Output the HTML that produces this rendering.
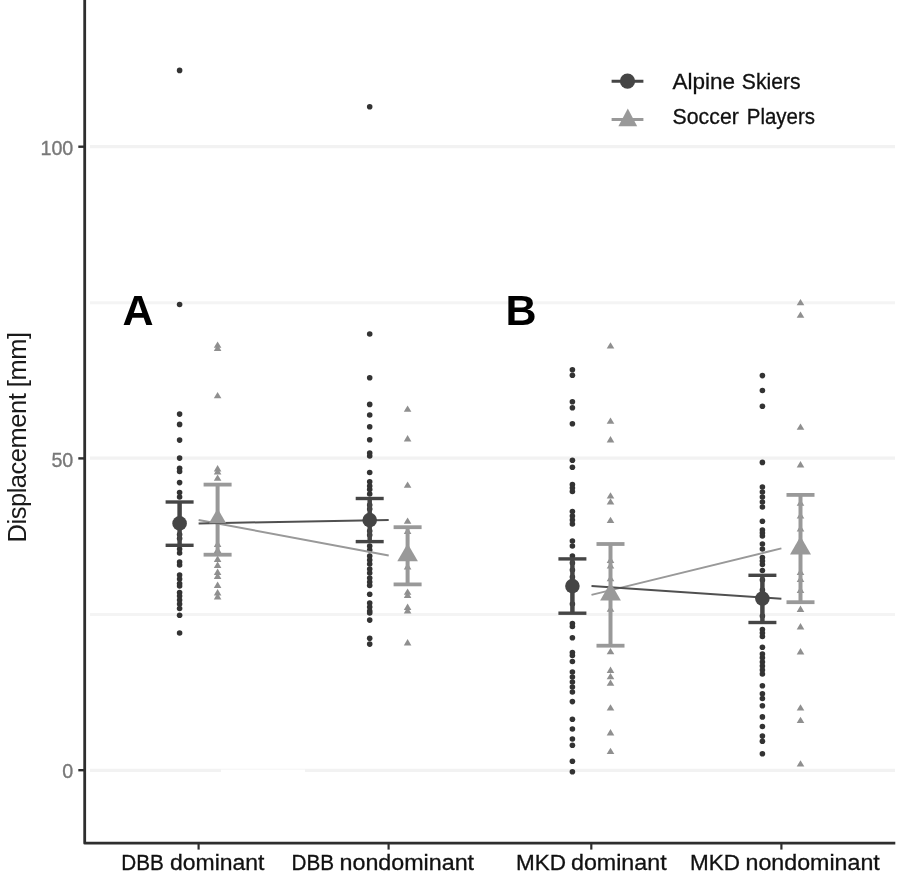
<!DOCTYPE html>
<html lang="en">
<head>
<meta charset="utf-8">
<title>Displacement: Alpine Skiers vs Soccer Players</title>
<style>
html,body{margin:0;padding:0;background:#ffffff;}
body{width:901px;height:874px;overflow:hidden;}
svg{display:block;filter:blur(0.45px);}
text{font-family:"Liberation Sans",sans-serif;}
.tick{font-size:19.7px;fill:#787878;stroke:#787878;stroke-width:0.35px;}
.lab{font-size:21.5px;fill:#111111;stroke:#111111;stroke-width:0.3px;}
.panel{font-size:43px;font-weight:bold;fill:#000000;}
.ylab{font-size:25.5px;fill:#1a1a1a;}
</style>
</head>
<body>
<svg width="901" height="874" viewBox="0 0 901 874">
<rect x="0" y="0" width="901" height="874" fill="#ffffff"/>

<g stroke-width="3.1" fill="none">
<line x1="90" y1="146.6" x2="895" y2="146.6" stroke="#f2f2f2"/>
<line x1="90" y1="302.8" x2="895" y2="302.8" stroke="#f4f4f4"/>
<line x1="90" y1="458.1" x2="895" y2="458.1" stroke="#f2f2f2"/>
<line x1="90" y1="614.5" x2="895" y2="614.5" stroke="#f4f4f4"/>
<line x1="90" y1="770.4" x2="895" y2="770.4" stroke="#f2f2f2"/>
</g>
<rect x="221" y="769.6" width="84" height="6" fill="#ffffff"/>
<g fill="#333333">
<circle cx="179.6" cy="70.4" r="2.8"/>
<circle cx="179.6" cy="304.5" r="2.8"/>
<circle cx="179.6" cy="414.1" r="2.8"/>
<circle cx="179.6" cy="424.4" r="2.8"/>
<circle cx="179.6" cy="440.1" r="2.8"/>
<circle cx="179.6" cy="458.1" r="2.8"/>
<circle cx="179.6" cy="468.2" r="2.8"/>
<circle cx="179.6" cy="471.5" r="2.8"/>
<circle cx="179.6" cy="482.6" r="2.8"/>
<circle cx="179.6" cy="492.5" r="2.8"/>
<circle cx="179.6" cy="497" r="2.8"/>
<circle cx="179.6" cy="534.5" r="2.8"/>
<circle cx="179.6" cy="538.5" r="2.8"/>
<circle cx="179.6" cy="549" r="2.8"/>
<circle cx="179.6" cy="553" r="2.8"/>
<circle cx="179.6" cy="562" r="2.8"/>
<circle cx="179.6" cy="565" r="2.8"/>
<circle cx="179.6" cy="575" r="2.8"/>
<circle cx="179.6" cy="579" r="2.8"/>
<circle cx="179.6" cy="583.5" r="2.8"/>
<circle cx="179.6" cy="586" r="2.8"/>
<circle cx="179.6" cy="592.5" r="2.8"/>
<circle cx="179.6" cy="596" r="2.8"/>
<circle cx="179.6" cy="600" r="2.8"/>
<circle cx="179.6" cy="604" r="2.8"/>
<circle cx="179.6" cy="608.5" r="2.8"/>
<circle cx="179.6" cy="615.3" r="2.8"/>
<circle cx="179.6" cy="633" r="2.8"/>
<circle cx="369.7" cy="106.8" r="2.8"/>
<circle cx="369.7" cy="334" r="2.8"/>
<circle cx="369.7" cy="377.7" r="2.8"/>
<circle cx="369.7" cy="404.4" r="2.8"/>
<circle cx="369.7" cy="415" r="2.8"/>
<circle cx="369.7" cy="426.8" r="2.8"/>
<circle cx="369.7" cy="439.7" r="2.8"/>
<circle cx="369.7" cy="453" r="2.8"/>
<circle cx="369.7" cy="456" r="2.8"/>
<circle cx="369.7" cy="472.5" r="2.8"/>
<circle cx="369.7" cy="481.7" r="2.8"/>
<circle cx="369.7" cy="486" r="2.8"/>
<circle cx="369.7" cy="489.5" r="2.8"/>
<circle cx="369.7" cy="494" r="2.8"/>
<circle cx="369.7" cy="505" r="2.8"/>
<circle cx="369.7" cy="509" r="2.8"/>
<circle cx="369.7" cy="531" r="2.8"/>
<circle cx="369.7" cy="535" r="2.8"/>
<circle cx="369.7" cy="546" r="2.8"/>
<circle cx="369.7" cy="550" r="2.8"/>
<circle cx="369.7" cy="556" r="2.8"/>
<circle cx="369.7" cy="560" r="2.8"/>
<circle cx="369.7" cy="564" r="2.8"/>
<circle cx="369.7" cy="569" r="2.8"/>
<circle cx="369.7" cy="573" r="2.8"/>
<circle cx="369.7" cy="578" r="2.8"/>
<circle cx="369.7" cy="582" r="2.8"/>
<circle cx="369.7" cy="585.5" r="2.8"/>
<circle cx="369.7" cy="594.2" r="2.8"/>
<circle cx="369.7" cy="603" r="2.8"/>
<circle cx="369.7" cy="607" r="2.8"/>
<circle cx="369.7" cy="611" r="2.8"/>
<circle cx="369.7" cy="613" r="2.8"/>
<circle cx="369.7" cy="620.1" r="2.8"/>
<circle cx="369.7" cy="638.2" r="2.8"/>
<circle cx="369.7" cy="644.1" r="2.8"/>
<circle cx="572.4" cy="369.7" r="2.8"/>
<circle cx="572.4" cy="375.3" r="2.8"/>
<circle cx="572.4" cy="401.7" r="2.8"/>
<circle cx="572.4" cy="407.8" r="2.8"/>
<circle cx="572.4" cy="423.8" r="2.8"/>
<circle cx="572.4" cy="460.3" r="2.8"/>
<circle cx="572.4" cy="467.2" r="2.8"/>
<circle cx="572.4" cy="484.5" r="2.8"/>
<circle cx="572.4" cy="488" r="2.8"/>
<circle cx="572.4" cy="491.5" r="2.8"/>
<circle cx="572.4" cy="511.5" r="2.8"/>
<circle cx="572.4" cy="516" r="2.8"/>
<circle cx="572.4" cy="520" r="2.8"/>
<circle cx="572.4" cy="524" r="2.8"/>
<circle cx="572.4" cy="541" r="2.8"/>
<circle cx="572.4" cy="546" r="2.8"/>
<circle cx="572.4" cy="556" r="2.8"/>
<circle cx="572.4" cy="563" r="2.8"/>
<circle cx="572.4" cy="570" r="2.8"/>
<circle cx="572.4" cy="577" r="2.8"/>
<circle cx="572.4" cy="604" r="2.8"/>
<circle cx="572.4" cy="623.5" r="2.8"/>
<circle cx="572.4" cy="626.5" r="2.8"/>
<circle cx="572.4" cy="637.7" r="2.8"/>
<circle cx="572.4" cy="652.6" r="2.8"/>
<circle cx="572.4" cy="655.5" r="2.8"/>
<circle cx="572.4" cy="661.5" r="2.8"/>
<circle cx="572.4" cy="672" r="2.8"/>
<circle cx="572.4" cy="677" r="2.8"/>
<circle cx="572.4" cy="682" r="2.8"/>
<circle cx="572.4" cy="687" r="2.8"/>
<circle cx="572.4" cy="692" r="2.8"/>
<circle cx="572.4" cy="701.6" r="2.8"/>
<circle cx="572.4" cy="719.2" r="2.8"/>
<circle cx="572.4" cy="729" r="2.8"/>
<circle cx="572.4" cy="739" r="2.8"/>
<circle cx="572.4" cy="745.2" r="2.8"/>
<circle cx="572.4" cy="761.3" r="2.8"/>
<circle cx="572.4" cy="771.7" r="2.8"/>
<circle cx="762.4" cy="375.6" r="2.8"/>
<circle cx="762.4" cy="390.5" r="2.8"/>
<circle cx="762.4" cy="406.2" r="2.8"/>
<circle cx="762.4" cy="462.4" r="2.8"/>
<circle cx="762.4" cy="487" r="2.8"/>
<circle cx="762.4" cy="492" r="2.8"/>
<circle cx="762.4" cy="497" r="2.8"/>
<circle cx="762.4" cy="502" r="2.8"/>
<circle cx="762.4" cy="507" r="2.8"/>
<circle cx="762.4" cy="521.2" r="2.8"/>
<circle cx="762.4" cy="530" r="2.8"/>
<circle cx="762.4" cy="533" r="2.8"/>
<circle cx="762.4" cy="536" r="2.8"/>
<circle cx="762.4" cy="544" r="2.8"/>
<circle cx="762.4" cy="549" r="2.8"/>
<circle cx="762.4" cy="557.5" r="2.8"/>
<circle cx="762.4" cy="561" r="2.8"/>
<circle cx="762.4" cy="564.5" r="2.8"/>
<circle cx="762.4" cy="570.5" r="2.8"/>
<circle cx="762.4" cy="580" r="2.8"/>
<circle cx="762.4" cy="590" r="2.8"/>
<circle cx="762.4" cy="616" r="2.8"/>
<circle cx="762.4" cy="629.5" r="2.8"/>
<circle cx="762.4" cy="633" r="2.8"/>
<circle cx="762.4" cy="636.5" r="2.8"/>
<circle cx="762.4" cy="647.3" r="2.8"/>
<circle cx="762.4" cy="654" r="2.8"/>
<circle cx="762.4" cy="657.8" r="2.8"/>
<circle cx="762.4" cy="662" r="2.8"/>
<circle cx="762.4" cy="666" r="2.8"/>
<circle cx="762.4" cy="670" r="2.8"/>
<circle cx="762.4" cy="674" r="2.8"/>
<circle cx="762.4" cy="685.7" r="2.8"/>
<circle cx="762.4" cy="693.7" r="2.8"/>
<circle cx="762.4" cy="698.5" r="2.8"/>
<circle cx="762.4" cy="705.7" r="2.8"/>
<circle cx="762.4" cy="716.9" r="2.8"/>
<circle cx="762.4" cy="726.5" r="2.8"/>
<circle cx="762.4" cy="736.1" r="2.8"/>
<circle cx="762.4" cy="741.2" r="2.8"/>
<circle cx="762.4" cy="753.7" r="2.8"/>
</g>
<g fill="#8f8f8f">
<polygon points="217.6,341.5 213.8,347.8 221.4,347.8"/>
<polygon points="217.6,344.6 213.8,350.9 221.4,350.9"/>
<polygon points="217.6,391.9 213.8,398.2 221.4,398.2"/>
<polygon points="217.6,465.1 213.8,471.4 221.4,471.4"/>
<polygon points="217.6,468.1 213.8,474.4 221.4,474.4"/>
<polygon points="217.6,474.4 213.8,480.7 221.4,480.7"/>
<polygon points="217.6,540.6 213.8,546.9 221.4,546.9"/>
<polygon points="217.6,546.6 213.8,552.9 221.4,552.9"/>
<polygon points="217.6,555.6 213.8,561.9 221.4,561.9"/>
<polygon points="217.6,561.6 213.8,567.9 221.4,567.9"/>
<polygon points="217.6,568.6 213.8,574.9 221.4,574.9"/>
<polygon points="217.6,572.6 213.8,578.9 221.4,578.9"/>
<polygon points="217.6,581.6 213.8,587.9 221.4,587.9"/>
<polygon points="217.6,589.1 213.8,595.4 221.4,595.4"/>
<polygon points="217.6,593.1 213.8,599.4 221.4,599.4"/>
<polygon points="407.6,405.5 403.8,411.8 411.4,411.8"/>
<polygon points="407.6,435.1 403.8,441.4 411.4,441.4"/>
<polygon points="407.6,481.5 403.8,487.8 411.4,487.8"/>
<polygon points="407.6,517.5 403.8,523.8 411.4,523.8"/>
<polygon points="407.6,527.6 403.8,533.9 411.4,533.9"/>
<polygon points="407.6,563.1 403.8,569.4 411.4,569.4"/>
<polygon points="407.6,588.4 403.8,594.7 411.4,594.7"/>
<polygon points="407.6,591.6 403.8,597.9 411.4,597.9"/>
<polygon points="407.6,603.6 403.8,609.9 411.4,609.9"/>
<polygon points="407.6,607.1 403.8,613.4 411.4,613.4"/>
<polygon points="407.6,639.1 403.8,645.4 411.4,645.4"/>
<polygon points="610.5,342.2 606.7,348.5 614.3,348.5"/>
<polygon points="610.5,417.5 606.7,423.8 614.3,423.8"/>
<polygon points="610.5,436.1 606.7,442.4 614.3,442.4"/>
<polygon points="610.5,492.3 606.7,498.6 614.3,498.6"/>
<polygon points="610.5,498.3 606.7,504.6 614.3,504.6"/>
<polygon points="610.5,516.7 606.7,523.0 614.3,523.0"/>
<polygon points="610.5,556.6 606.7,562.9 614.3,562.9"/>
<polygon points="610.5,562.2 606.7,568.5 614.3,568.5"/>
<polygon points="610.5,575.0 606.7,581.3 614.3,581.3"/>
<polygon points="610.5,605.5 606.7,611.8 614.3,611.8"/>
<polygon points="610.5,648.0 606.7,654.3 614.3,654.3"/>
<polygon points="610.5,666.6 606.7,672.9 614.3,672.9"/>
<polygon points="610.5,672.9 606.7,679.2 614.3,679.2"/>
<polygon points="610.5,679.4 606.7,685.7 614.3,685.7"/>
<polygon points="610.5,704.3 606.7,710.6 614.3,710.6"/>
<polygon points="610.5,729.1 606.7,735.4 614.3,735.4"/>
<polygon points="610.5,747.8 606.7,754.1 614.3,754.1"/>
<polygon points="800.5,299.0 796.7,305.3 804.3,305.3"/>
<polygon points="800.5,311.5 796.7,317.8 804.3,317.8"/>
<polygon points="800.5,423.4 796.7,429.7 804.3,429.7"/>
<polygon points="800.5,461.1 796.7,467.4 804.3,467.4"/>
<polygon points="800.5,499.5 796.7,505.8 804.3,505.8"/>
<polygon points="800.5,512.3 796.7,518.6 804.3,518.6"/>
<polygon points="800.5,525.1 796.7,531.4 804.3,531.4"/>
<polygon points="800.5,568.6 796.7,574.9 804.3,574.9"/>
<polygon points="800.5,575.6 796.7,581.9 804.3,581.9"/>
<polygon points="800.5,586.6 796.7,592.9 804.3,592.9"/>
<polygon points="800.5,605.6 796.7,611.9 804.3,611.9"/>
<polygon points="800.5,623.1 796.7,629.4 804.3,629.4"/>
<polygon points="800.5,648.1 796.7,654.4 804.3,654.4"/>
<polygon points="800.5,704.2 796.7,710.5 804.3,710.5"/>
<polygon points="800.5,716.7 796.7,723.0 804.3,723.0"/>
<polygon points="800.5,760.3 796.7,766.6 804.3,766.6"/>
</g>
<g stroke="#999999" fill="#999999" stroke-linecap="butt">
<line x1="217.6" y1="484.6" x2="217.6" y2="554.7" stroke-width="4"/>
<line x1="203.6" y1="484.6" x2="231.6" y2="484.6" stroke-width="3.8"/>
<line x1="203.6" y1="554.7" x2="231.6" y2="554.7" stroke-width="3.8"/>
<line x1="407.6" y1="527.2" x2="407.6" y2="584.4" stroke-width="4"/>
<line x1="393.6" y1="527.2" x2="421.6" y2="527.2" stroke-width="3.8"/>
<line x1="393.6" y1="584.4" x2="421.6" y2="584.4" stroke-width="3.8"/>
<line x1="610.5" y1="544" x2="610.5" y2="645.7" stroke-width="4"/>
<line x1="596.5" y1="544" x2="624.5" y2="544" stroke-width="3.8"/>
<line x1="596.5" y1="645.7" x2="624.5" y2="645.7" stroke-width="3.8"/>
<line x1="800.5" y1="494.9" x2="800.5" y2="602.2" stroke-width="4"/>
<line x1="786.5" y1="494.9" x2="814.5" y2="494.9" stroke-width="3.8"/>
<line x1="786.5" y1="602.2" x2="814.5" y2="602.2" stroke-width="3.8"/>
</g>
<g stroke="#454545" fill="#454545" stroke-linecap="butt">
<line x1="179.6" y1="502" x2="179.6" y2="545.3" stroke-width="4.5"/>
<line x1="165.6" y1="502" x2="193.6" y2="502" stroke-width="3.4"/>
<line x1="165.6" y1="545.3" x2="193.6" y2="545.3" stroke-width="3.4"/>
<line x1="369.7" y1="498.5" x2="369.7" y2="541.6" stroke-width="4.5"/>
<line x1="355.7" y1="498.5" x2="383.7" y2="498.5" stroke-width="3.4"/>
<line x1="355.7" y1="541.6" x2="383.7" y2="541.6" stroke-width="3.4"/>
<line x1="572.4" y1="558.9" x2="572.4" y2="613.2" stroke-width="4.5"/>
<line x1="558.4" y1="558.9" x2="586.4" y2="558.9" stroke-width="3.4"/>
<line x1="558.4" y1="613.2" x2="586.4" y2="613.2" stroke-width="3.4"/>
<line x1="762.4" y1="575.3" x2="762.4" y2="622.5" stroke-width="4.5"/>
<line x1="748.4" y1="575.3" x2="776.4" y2="575.3" stroke-width="3.4"/>
<line x1="748.4" y1="622.5" x2="776.4" y2="622.5" stroke-width="3.4"/>
</g>
<g fill="none" stroke-width="2">
<line x1="198.6" y1="519.9" x2="388.7" y2="555.6" stroke="#999999"/>
<line x1="591.5" y1="594.9" x2="781.4" y2="548.4" stroke="#999999"/>
<line x1="198.6" y1="523.4" x2="388.7" y2="520.1" stroke="#505050"/>
<line x1="591.5" y1="586.1" x2="781.4" y2="598.7" stroke="#505050"/>
</g>
<g fill="#999999">
<polygon points="217.6,508.5 209.0,523.2 226.2,523.2"/>
<polygon points="407.6,543.5 397.3,561.3 417.9,561.3"/>
<polygon points="610.5,582.4 600.1,600.5 620.9,600.5"/>
<polygon points="800.5,536.3 790.0,554.4 811.0,554.4"/>
</g>
<g fill="#454545">
<circle cx="179.6" cy="523.4" r="7.3"/>
<circle cx="369.7" cy="520.1" r="7.3"/>
<circle cx="572.4" cy="586.1" r="7.3"/>
<circle cx="762.4" cy="598.6" r="7.3"/>
</g>
<g stroke="#2e2e2e" fill="none">
<path d="M84.7,0 L84.7,843.2 L895.3,843.2" stroke-width="2.8" stroke-linejoin="round"/>
<line x1="78.3" y1="146.7" x2="85" y2="146.7" stroke-width="2.4"/>
<line x1="78.3" y1="458.4" x2="85" y2="458.4" stroke-width="2.4"/>
<line x1="78.3" y1="770.2" x2="85" y2="770.2" stroke-width="2.4"/>
<line x1="198.6" y1="843" x2="198.6" y2="849.6" stroke-width="2.2"/>
<line x1="388.6" y1="843" x2="388.6" y2="849.6" stroke-width="2.2"/>
<line x1="591.3" y1="843" x2="591.3" y2="849.6" stroke-width="2.2"/>
<line x1="781.4" y1="843" x2="781.4" y2="849.6" stroke-width="2.2"/>
</g>
<text class="tick" x="73.3" y="154.6" text-anchor="end">100</text>
<text class="tick" x="73.3" y="467.1" text-anchor="end">50</text>
<text class="tick" x="73.3" y="778.4" text-anchor="end">0</text>
<text class="ylab" transform="translate(25.6,542.4) rotate(-90)" textLength="210.5" lengthAdjust="spacing">Displacement [mm]</text>
<text class="lab" y="869.5"><tspan x="121.3" textLength="42.6" lengthAdjust="spacingAndGlyphs">DBB</tspan> <tspan x="170.0" textLength="94.4" lengthAdjust="spacingAndGlyphs">dominant</tspan></text>
<text class="lab" y="869.5"><tspan x="291.5" textLength="42.6" lengthAdjust="spacingAndGlyphs">DBB</tspan> <tspan x="339.5" textLength="134.6" lengthAdjust="spacingAndGlyphs">nondominant</tspan></text>
<text class="lab" y="869.5"><tspan x="515.9" textLength="50.0" lengthAdjust="spacingAndGlyphs">MKD</tspan> <tspan x="571.0" textLength="95.6" lengthAdjust="spacingAndGlyphs">dominant</tspan></text>
<text class="lab" y="869.5"><tspan x="690.1" textLength="50.0" lengthAdjust="spacingAndGlyphs">MKD</tspan> <tspan x="745.5" textLength="134.3" lengthAdjust="spacingAndGlyphs">nondominant</tspan></text>
<text class="panel" x="122.6" y="325">A</text>
<text class="panel" x="505.4" y="325">B</text>
<line x1="611.6" y1="81.2" x2="643.4" y2="81.2" stroke="#454545" stroke-width="3"/>
<circle cx="627.5" cy="81.2" r="7.6" fill="#454545"/>
<line x1="611.6" y1="119.4" x2="643.4" y2="119.4" stroke="#999999" stroke-width="3"/>
<polygon points="627.8,108.6 618.4,126.3 637.2,126.3" fill="#999999"/>
<text class="lab" y="89"><tspan x="672.5" textLength="62.6" lengthAdjust="spacingAndGlyphs">Alpine</tspan> <tspan x="741.8" textLength="58.8" lengthAdjust="spacingAndGlyphs">Skiers</tspan></text>
<text class="lab" y="123.6"><tspan x="672.6" textLength="66.2" lengthAdjust="spacingAndGlyphs">Soccer</tspan> <tspan x="746.8" textLength="68.2" lengthAdjust="spacingAndGlyphs">Players</tspan></text>
</svg>
</body>
</html>
